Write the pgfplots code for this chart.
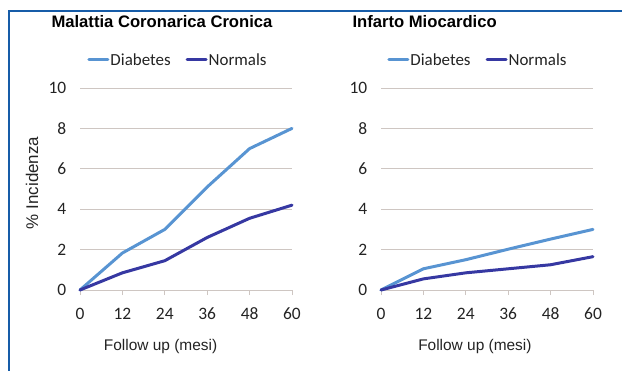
\documentclass[border=0pt]{standalone}
\usepackage{pgfplots}
\pgfplotsset{compat=1.18}
\usepackage{fontspec}
\setmainfont{Liberation Sans}
\newfontfamily\calib{Carlito}

\definecolor{diab}{RGB}{88,148,210}
\definecolor{norm}{RGB}{54,56,162}
\definecolor{frame}{RGB}{22,92,168}
\definecolor{gridc}{RGB}{206,198,194}
\definecolor{txt}{RGB}{35,35,35}

\pgfplotsset{
  panel/.style={
    width=212bp, height=202bp, scale only axis,
    anchor=south west, clip=false,
    xmin=0, xmax=60, ymin=0, ymax=10,
    xtick={0,12,24,36,48,60}, ytick={0,2,4,6,8,10},
    axis line style={draw=none},
    ymajorgrids, grid style={color=gridc, line width=0.9bp},
    ytick style={draw=none},
    xtick pos=bottom, tick align=outside, major tick length=5bp,
    xtick style={color=gridc, line width=0.9bp},
    /pgf/number format/assume math mode=true,
    tick label style={font=\calib\fontsize{17.5}{20}\selectfont, text=txt},
    yticklabel style={inner sep=0pt, xshift=-8.5bp},
    xticklabel style={inner sep=0pt, yshift=-12.5bp},
    title style={font=\bfseries\fontsize{16.7}{19}\selectfont, anchor=west,
      at={(axis description cs:-0.151,1.30)}},
    xlabel style={font=\fontsize{15.5}{18}\selectfont, text=txt},
    ylabel style={font=\fontsize{17}{19}\selectfont, text=txt},
    legend columns=2,
    legend style={draw=none, fill=none, font=\calib\fontsize{17}{19}\selectfont,
      text=txt, anchor=center, inner sep=0pt,
      nodes={inner sep=1bp},
      /tikz/every even column/.append style={column sep=14bp}},
    legend image code/.code={\draw[#1, line width=3bp] (0bp,0bp) -- (19bp,0bp);},
    every axis plot/.append style={line width=3bp, line join=round, line cap=round},
  }
}

\begin{document}
\begin{tikzpicture}
\useasboundingbox (0bp,0bp) rectangle (622bp,371bp);
\draw[frame, line width=2.6bp] (9bp,0bp) -- (9bp,360bp) -- (622bp,360bp);

% Malattia coronarica cronica
\begin{axis}[panel, at={(80bp,81bp)},
  title={Malattia Coronarica Cronica},
  ylabel={\% Incidenza},
  ylabel style={at={(axis description cs:-0.226,0.53)}, anchor=center},
  xlabel={Follow up (mesi)},
  xlabel style={at={(axis description cs:0.38,-0.282)}, anchor=center},
  legend style={at={(axis description cs:0.46,1.139)}}]
\addplot[diab] coordinates {(0,0) (12,1.83) (24,3.0) (36,5.1) (48,7.0) (60,8.0)};
\addplot[norm] coordinates {(0,0) (12,0.85) (24,1.45) (36,2.6) (48,3.55) (60,4.2)};
\legend{Diabetes,Normals}
\end{axis}

% Infarto miocardico
\begin{axis}[panel, at={(381bp,81bp)},
  title={Infarto Miocardico},
  xlabel={Follow up (mesi)},
  xlabel style={at={(axis description cs:0.443,-0.282)}, anchor=center},
  legend style={at={(axis description cs:0.455,1.139)}}]
\addplot[diab] coordinates {(0,0) (12,1.05) (24,1.5) (36,2.02) (48,2.52) (60,3.0)};
\addplot[norm] coordinates {(0,0) (12,0.55) (24,0.85) (36,1.05) (48,1.25) (60,1.65)};
\legend{Diabetes,Normals}
\end{axis}
\end{tikzpicture}
\end{document}
